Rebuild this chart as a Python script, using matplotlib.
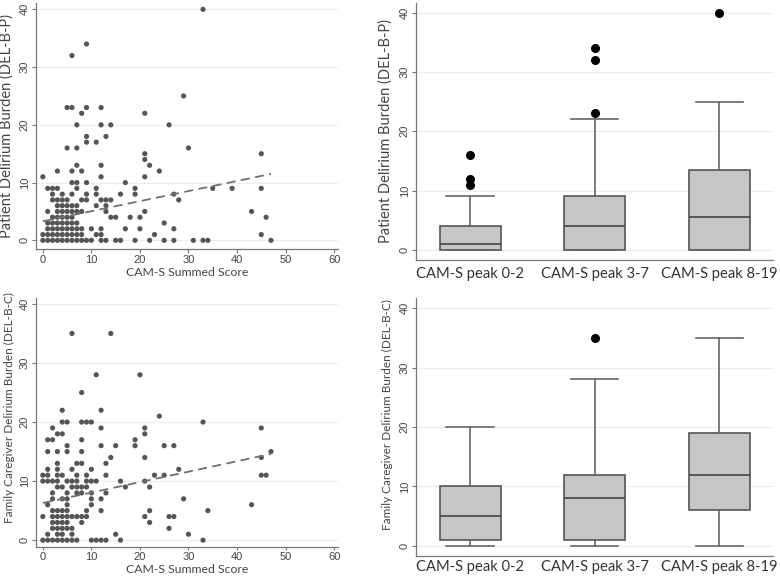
import numpy as np
import matplotlib
matplotlib.use("Agg")
import matplotlib.pyplot as plt
import matplotlib.transforms as mtransforms

plt.rcParams['font.family'] = ['Lato', 'DejaVu Sans']

# scatter data: CAM-S summed score vs patient burden (DEL-B-P)
cams_p = [0, 0, 0,
          1, 1, 1, 1, 1, 1,
          2, 2, 2, 2, 2, 2, 2, 2,
          3, 3, 3, 3, 3, 3, 3, 3, 3, 3,
          4, 4, 4, 4, 4, 4, 4, 4, 4,
          5, 5, 5, 5, 5, 5, 5, 5, 5, 5,
          6, 6, 6, 6, 6, 6, 6, 6, 6, 6, 6, 6,
          7, 7, 7, 7, 7, 7, 7, 7, 7, 7, 7,
          8, 8, 8, 8, 8, 8, 8,
          9, 9, 9, 9, 9, 9, 9, 9,
          10, 10,
          11, 11, 11, 11, 11,
          12, 12, 12, 12, 12, 12, 12, 12,
          13, 13, 13, 13, 13,
          14, 14, 14,
          15, 15, 16, 16, 17, 17, 18,
          19, 19, 19, 20, 20,
          21, 21, 21, 21, 21,
          22, 22, 23, 24, 25, 25, 26,
          27, 27, 27, 28, 29, 30, 31,
          33, 33, 34, 35, 39, 43,
          45, 45, 45, 46, 47]
delbp = [0, 1, 11,
         0, 1, 2, 3, 5, 9,
         0, 1, 2, 3, 4, 7, 8, 9,
         0, 1, 2, 3, 4, 5, 6, 7, 9, 12,
         0, 1, 2, 3, 4, 5, 6, 7, 8,
         0, 1, 2, 3, 4, 5, 6, 7, 16, 23,
         0, 1, 2, 3, 4, 5, 6, 8, 10, 12, 23, 32,
         0, 1, 2, 3, 5, 6, 9, 10, 13, 16, 20,
         0, 1, 2, 5, 7, 12, 22,
         0, 7, 8, 10, 17, 18, 23, 34,
         0, 2,
         1, 6, 8, 9, 17,
         0, 1, 2, 7, 11, 13, 20, 23,
         0, 5, 6, 7, 18,
         4, 7, 20,
         0, 4, 0, 8, 2, 10, 4,
         0, 8, 9, 2, 4,
         5, 11, 14, 15, 22,
         0, 13, 1, 12, 0, 3, 20,
         0, 2, 8, 7, 25, 16, 0,
         0, 40, 0, 9, 9, 5,
         1, 9, 15, 4, 0]

# scatter data: CAM-S summed score vs caregiver burden (DEL-B-C)
cams_c = [0, 0, 0, 0,
          1, 1, 1, 1, 1, 1, 1, 1,
          2, 2, 2, 2, 2, 2, 2, 2, 2, 2,
          3, 3, 3, 3, 3, 3, 3, 3, 3, 3, 3, 3, 3,
          4, 4, 4, 4, 4, 4, 4, 4, 4, 4, 4, 4,
          5, 5, 5, 5, 5, 5, 5, 5, 5, 5, 5, 5,
          6, 6, 6, 6, 6, 6, 6, 6,
          7, 7, 7, 7, 7, 7, 7,
          8, 8, 8, 8, 8, 8, 8, 8, 8,
          9, 9, 9, 9, 9, 9,
          10, 10, 10, 10, 10, 10, 10,
          11, 11, 11,
          12, 12, 12, 12, 12, 12,
          13, 13, 13, 13,
          14, 14, 15, 15, 16, 16, 17,
          19, 19, 20,
          21, 21, 21, 21, 21,
          22, 22, 22, 23, 24, 25, 25,
          26, 26, 27, 27, 28, 29, 30,
          33, 33, 34, 43,
          45, 45, 45, 46, 47]
delbc = [0, 4, 10, 11,
         0, 1, 6, 10, 11, 12, 15, 17,
         0, 2, 3, 4, 5, 7, 8, 10, 17, 19,
         0, 1, 2, 3, 4, 5, 9, 10, 11, 12, 13, 15, 18,
         0, 1, 2, 3, 4, 5, 7, 9, 11, 18, 20, 22,
         0, 2, 3, 4, 5, 6, 7, 8, 10, 15, 16, 20,
         0, 1, 2, 4, 9, 10, 12, 35,
         0, 4, 8, 9, 10, 11, 13,
         3, 4, 8, 9, 13, 15, 17, 20, 25,
         4, 5, 9, 10, 11, 20,
         0, 6, 7, 8, 10, 12, 20,
         0, 10, 28,
         0, 5, 7, 16, 19, 22,
         0, 8, 11, 13,
         14, 35, 1, 16, 0, 10, 9,
         16, 17, 28,
         4, 10, 14, 18, 19,
         3, 5, 9, 11, 21, 11, 16,
         2, 4, 4, 16, 12, 7, 1,
         0, 20, 5, 6,
         11, 14, 19, 11, 15]

# fitted lines (start/end of dashed fit)
fit_x = [0, 47]
fit_p = [3.3, 11.5]
fit_c = [6.3, 14.6]

# boxplot summaries by CAM-S peak group
groups = ['CAM-S peak 0-2', 'CAM-S peak 3-7', 'CAM-S peak 8-19']
p_q1 = [0, 0, 0]
p_med = [1, 4, 5.5]
p_q3 = [4, 9, 13.5]
p_lo = [0, 0, 0]
p_hi = [9, 22, 25]
p_out = [[11, 12, 16], [23, 32, 34], [40]]

c_q1 = [1, 1, 6]
c_med = [5, 8, 12]
c_q3 = [10, 12, 19]
c_lo = [0, 0, 0]
c_hi = [20, 28, 35]
c_out = [[], [35], []]

GRID = '#ececec'
SPINE = '#777777'
DOT = '#555555'
TXT = '#444444'
TICKFONT = 'Liberation Sans'
W, H = 780, 578


def style_axes(ax, ylabel, ylim, ylab_size, ylab_x, ylab_y):
    ax.spines['top'].set_visible(False)
    ax.spines['right'].set_visible(False)
    for s in ('left', 'bottom'):
        ax.spines[s].set_color(SPINE)
        ax.spines[s].set_linewidth(0.9)
    ax.set_ylim(*ylim)
    ax.set_yticks([0, 10, 20, 30, 40])
    ax.yaxis.grid(True, color=GRID, linewidth=0.8)
    ax.set_axisbelow(True)
    ax.tick_params(colors=TXT, labelsize=8, length=3, width=0.8, pad=1.5)
    ax.tick_params(axis='both', color=SPINE)
    for lab in ax.get_yticklabels() + ax.get_xticklabels():
        lab.set_family(TICKFONT)
    for lab in ax.get_yticklabels():
        lab.set_rotation(90)
        lab.set_va('center')
    ax.set_ylabel(ylabel, fontsize=ylab_size, color=TXT)
    trans = mtransforms.blended_transform_factory(ax.figure.transFigure, ax.transAxes)
    ax.yaxis.set_label_coords(ylab_x / W, ylab_y, transform=trans)


def scatter_panel(ax, x, y, fy, ylabel, ylim, ylab_size, ylab_x, ylab_y,
                  xlab_top, xtick_len=3, xtick_pad=1.5):
    ax.scatter(x, y, s=14, color=DOT, edgecolors='none', zorder=3)
    ax.plot(fit_x, fy, linestyle=(0, (5, 3)), color='#707070', linewidth=1.3, zorder=4)
    ax.set_xlim(-1.4, 60.8)
    ax.set_xticks([0, 10, 20, 30, 40, 50, 60])
    style_axes(ax, ylabel, ylim, ylab_size, ylab_x, ylab_y)
    ax.tick_params(axis='x', length=xtick_len, pad=xtick_pad)
    ax.set_xlabel('CAM-S Summed Score', fontsize=8.8, color=TXT)
    trans = mtransforms.blended_transform_factory(ax.transAxes, ax.figure.transFigure)
    ax.xaxis.set_label_coords(0.5, 1 - xlab_top / H, transform=trans)


def box_panel(ax, q1, med, q3, lo, hi, out, ylabel, ylim, ylab_size, ylab_y, xpad):
    stats = []
    for i in range(len(groups)):
        stats.append({'q1': q1[i], 'med': med[i], 'q3': q3[i],
                      'whislo': lo[i], 'whishi': hi[i], 'fliers': out[i]})
    ax.bxp(stats, positions=[1, 2, 3], widths=0.49, patch_artist=True,
           boxprops=dict(facecolor='#c6c6c6', edgecolor='#555555', linewidth=1.2),
           medianprops=dict(color='#444444', linewidth=1.2),
           whiskerprops=dict(color='#666666', linewidth=1.2),
           capprops=dict(color='#666666', linewidth=1.2),
           capwidths=0.38,
           flierprops=dict(marker='o', markerfacecolor='black', markeredgecolor='black',
                           markersize=5.5))
    ax.set_xlim(0.566, 3.43)
    style_axes(ax, ylabel, ylim, ylab_size, 393, ylab_y)
    ax.set_xticks([1, 2, 3])
    ax.set_xticklabels(groups, fontsize=10.6, color='#333333', family='Lato')
    ax.tick_params(axis='x', length=0, pad=xpad)


fig = plt.figure(figsize=(7.8, 5.78), dpi=100)
ax1 = fig.add_axes([0.0462, 0.5692, 0.3871, 0.4256])
ax2 = fig.add_axes([0.5333, 0.5502, 0.4577, 0.4446])
ax3 = fig.add_axes([0.0462, 0.0536, 0.3871, 0.4308])
ax4 = fig.add_axes([0.5333, 0.0381, 0.4577, 0.4463])

scatter_panel(ax1, cams_p, delbp, fit_p, 'Patient Delirium Burden (DEL-B-P)',
              (-1.5, 41.1), 10.5, 14, 0.5, 267)
box_panel(ax2, p_q1, p_med, p_q3, p_lo, p_hi, p_out,
          'Patient Delirium Burden (DEL-B-P)', (-1.7, 41.6), 10.5, 0.5, 5)
scatter_panel(ax3, cams_c, delbc, fit_c, 'Family Caregiver Delirium Burden (DEL-B-C)',
              (-1.16, 41.0), 8.5, 15, 0.56, 564, xtick_len=2.5, xtick_pad=0.8)
box_panel(ax4, c_q1, c_med, c_q3, c_lo, c_hi, c_out,
          'Family Caregiver Delirium Burden (DEL-B-C)', (-1.7, 41.7), 8.5, 0.55, 3)

fig.savefig('out.png', dpi=100)
